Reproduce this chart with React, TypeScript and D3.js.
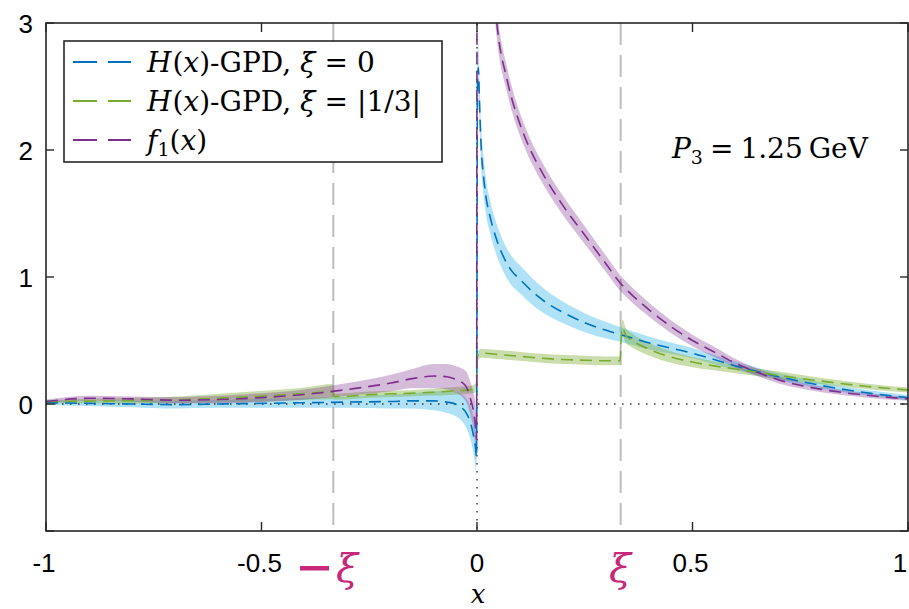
import React from "react";
import * as d3 from "d3";

// ---------- data ----------
const xTicks = [-1, -0.5, 0, 0.5, 1];
const xTickLabels = ["-1", "-0.5", "0", "0.5", "1"];
const yTicks = [-1, 0, 1, 2, 3];
const yTickLabels = ["", "0", "1", "2", "3"];
const xiValue = 1 / 3;

// H(x)-GPD, xi = 0
const xBlue = [-1, -0.9, -0.8, -0.7, -0.6, -0.5, -0.4, -0.3, -0.2, -0.15, -0.1, -0.07, -0.05, -0.035, -0.025, -0.015, -0.008, -0.004, -0.001,
  0.001, 0.003, 0.006, 0.01, 0.015, 0.02, 0.03, 0.045, 0.06, 0.08, 0.1, 0.13, 0.16, 0.2, 0.25, 0.3, 0.35, 0.4, 0.45, 0.5, 0.55, 0.6, 0.65, 0.7, 0.8, 0.9, 1.0];
const yBlue = [0.01, 0.005, 0.0, -0.005, 0.0, 0.005, 0.01, 0.015, 0.02, 0.025, 0.025, 0.015, 0.0, -0.03, -0.07, -0.15, -0.25, -0.33, -0.42,
  2.5, 2.65, 2.35, 2.0, 1.8, 1.65, 1.48, 1.3, 1.17, 1.05, 0.98, 0.88, 0.8, 0.72, 0.64, 0.58, 0.53, 0.48, 0.44, 0.40, 0.35, 0.30, 0.255, 0.215, 0.145, 0.09, 0.05];
const eBlue = [0.015, 0.02, 0.025, 0.03, 0.03, 0.035, 0.04, 0.045, 0.055, 0.06, 0.075, 0.085, 0.095, 0.105, 0.115, 0.13, 0.145, 0.16, 0.18,
  0.2, 0.2, 0.18, 0.16, 0.15, 0.14, 0.13, 0.125, 0.12, 0.115, 0.11, 0.105, 0.095, 0.085, 0.075, 0.065, 0.055, 0.05, 0.045, 0.04, 0.035, 0.032, 0.03, 0.028, 0.025, 0.022, 0.02];

// H(x)-GPD, xi = |1/3|
const xGreen = [-1, -0.885, -0.715, -0.548, -0.39, -0.336, -0.33, -0.235, -0.158, -0.065, -0.011, -0.001,
  0.001, 0.01, 0.05, 0.1, 0.15, 0.2, 0.25, 0.3, 0.332, 0.335, 0.338, 0.345, 0.36, 0.4, 0.45, 0.5, 0.55, 0.6, 0.65, 0.7, 0.8, 0.9, 1.0];
const yGreen = [0.02, 0.024, 0.031, 0.053, 0.084, 0.097, 0.058, 0.076, 0.084, 0.10, 0.115, 0.13,
  0.38, 0.40, 0.39, 0.375, 0.36, 0.35, 0.345, 0.34, 0.34, 0.55, 0.60, 0.54, 0.50, 0.43, 0.37, 0.33, 0.30, 0.275, 0.25, 0.225, 0.18, 0.14, 0.11];
const eGreen = [0.01, 0.02, 0.025, 0.04, 0.05, 0.06, 0.025, 0.025, 0.025, 0.03, 0.03, 0.035,
  0.035, 0.035, 0.035, 0.035, 0.035, 0.035, 0.035, 0.035, 0.035, 0.06, 0.065, 0.06, 0.055, 0.05, 0.045, 0.04, 0.035, 0.033, 0.03, 0.03, 0.025, 0.022, 0.02];

// f1(x)
const xPurple = [-1, -0.9, -0.8, -0.7, -0.6, -0.5, -0.4, -0.3, -0.2, -0.15, -0.1, -0.07, -0.05, -0.035, -0.025, -0.015, -0.008, -0.004, -0.001,
  0.001, 0.01, 0.02, 0.03, 0.046, 0.07, 0.1, 0.12, 0.15, 0.2, 0.25, 0.3, 0.333, 0.35, 0.4, 0.45, 0.5, 0.55, 0.6, 0.65, 0.7, 0.8, 0.9, 1.0];
const yPurple = [0.02, 0.045, 0.04, 0.03, 0.035, 0.05, 0.075, 0.115, 0.165, 0.2, 0.22, 0.215, 0.195, 0.17, 0.135, 0.04, -0.06, -0.16, -0.28,
  8.0, 6.0, 4.5, 3.7, 3.0, 2.55, 2.2, 2.03, 1.83, 1.56, 1.33, 1.1, 0.95, 0.89, 0.74, 0.61, 0.50, 0.41, 0.32, 0.25, 0.19, 0.115, 0.07, 0.04];
const ePurple = [0.015, 0.02, 0.02, 0.025, 0.03, 0.035, 0.04, 0.05, 0.065, 0.075, 0.095, 0.1, 0.105, 0.11, 0.12, 0.13, 0.15, 0.17, 0.2,
  0.3, 0.25, 0.2, 0.15, 0.12, 0.1, 0.09, 0.085, 0.08, 0.075, 0.07, 0.065, 0.062, 0.06, 0.055, 0.05, 0.045, 0.04, 0.035, 0.03, 0.028, 0.022, 0.018, 0.015];

// ---------- layout ----------
const W = 909, H = 609;
const L = 46, R = 908, T = 23, B = 531;
const serif = "'DejaVu Serif', 'Liberation Serif', serif";
const sans = "'Liberation Sans', Arial, sans-serif";

const xS = d3.scaleLinear().domain([-1, 1]).range([L, R]);
const yS = d3.scaleLinear().domain([-1, 3]).range([B, T]);

type P = { x: number; y: number; e: number };
const mk = (xs: number[], ys: number[], es: number[]): P[] => xs.map((x, i) => ({ x, y: ys[i], e: es[i] }));

const series = [
  { name: "blue", data: mk(xBlue, yBlue, eBlue), line: "#0072BD", fill: "#4DBEEE", op: 0.45 },
  { name: "green", data: mk(xGreen, yGreen, eGreen), line: "#77AC30", fill: "#77AC30", op: 0.4 },
  { name: "purple", data: mk(xPurple, yPurple, ePurple), line: "#7E2F8E", fill: "#7E2F8E", op: 0.32 },
];

const lineGen = d3.line<P>().curve(d3.curveMonotoneX).x(d => xS(d.x)).y(d => yS(d.y));
const areaGen = d3.area<P>().curve(d3.curveMonotoneX).x(d => xS(d.x)).y0(d => yS(d.y - d.e)).y1(d => yS(d.y + d.e));

const magenta = "#C8287A";
const axisCol = "#262626";
const FS = 28;

export default function App() {
  return (
    <svg width={W} height={H} style={{ position: "absolute", left: 0, top: 0, background: "#fff" }}>
      <defs>
        <clipPath id="plot">
          <rect x={L} y={T} width={R - L} height={B - T} />
        </clipPath>
      </defs>
      <rect x={0} y={0} width={W} height={H} fill="#fff" />

      {/* grey dashed xi lines */}
      {[-xiValue, xiValue].map((v, i) => (
        <line key={i} x1={xS(v)} x2={xS(v)} y1={T} y2={B} stroke="#BDBDBD" strokeWidth={2} strokeDasharray="22 10" />
      ))}

      <g clipPath="url(#plot)">
        {series.map(s => (
          <path key={s.name + "a"} d={areaGen(s.data) || ""} fill={s.fill} fillOpacity={s.op} stroke="none" />
        ))}
        {/* dotted zero lines */}
        <line x1={L} x2={R} y1={yS(0)} y2={yS(0)} stroke="#333" strokeWidth={1.4} strokeDasharray="1.5 6.5" />
        <line x1={xS(0)} x2={xS(0)} y1={T} y2={B} stroke="#333" strokeWidth={1.4} strokeDasharray="1.5 6.5" />
        {series.map(s => (
          <path key={s.name + "l"} d={lineGen(s.data) || ""} fill="none" stroke={s.line} strokeWidth={1.6} strokeDasharray="12 7" />
        ))}
      </g>

      {/* axes box */}
      <rect x={L} y={T} width={R - L} height={B - T} fill="none" stroke={axisCol} strokeWidth={1.6} />
      {xTicks.map((t, i) => (
        <g key={"xt" + i}>
          <line x1={xS(t)} x2={xS(t)} y1={B} y2={B - 9} stroke={axisCol} strokeWidth={1.4} />
          <line x1={xS(t)} x2={xS(t)} y1={T} y2={T + 9} stroke={axisCol} strokeWidth={1.4} />
          <text x={t === 1 ? 900 : xS(t) - (t === 0 ? 0 : 2)} y={572} fontFamily={sans} fontSize={26} textAnchor="middle" fill="#000">{xTickLabels[i]}</text>
        </g>
      ))}
      {yTicks.map((t, i) => (
        <g key={"yt" + i}>
          <line x1={L} x2={L + 8} y1={yS(t)} y2={yS(t)} stroke={axisCol} strokeWidth={1.4} />
          <line x1={R} x2={R - 8} y1={yS(t)} y2={yS(t)} stroke={axisCol} strokeWidth={1.4} />
          <text x={33} y={yS(t) + 10} fontFamily={sans} fontSize={26} textAnchor="end" fill="#000">{yTickLabels[i]}</text>
        </g>
      ))}

      {/* xi labels */}
      <rect x={300} y={566} width={29} height={4.5} fill={magenta} />
      <text x={347} y={582} fontFamily={serif} fontStyle="italic" fontSize={40} textAnchor="middle" fill={magenta}>ξ</text>
      <text x={620} y={582} fontFamily={serif} fontStyle="italic" fontSize={40} textAnchor="middle" fill={magenta}>ξ</text>

      {/* x axis label */}
      <text x={478} y={603} fontFamily={serif} fontStyle="italic" fontSize={26} textAnchor="middle" fill="#000">x</text>

      {/* P3 annotation */}
      <text x={672} y={158} fontFamily={serif} fontSize={FS} fill="#000">
        <tspan fontStyle="italic">P</tspan>
        <tspan fontSize={19} dy={6}>3</tspan>
        <tspan dy={-6} dx={7}>=</tspan>
        <tspan dx={7}>1.25</tspan>
        <tspan dx={6}>GeV</tspan>
      </text>

      {/* legend */}
      <rect x={64} y={41} width={378} height={121} fill="#fff" stroke={axisCol} strokeWidth={1.6} />
      {[
        { col: "#0072BD", y: 62 },
        { col: "#77AC30", y: 101 },
        { col: "#7E2F8E", y: 140 },
      ].map((e, i) => (
        <line key={"lg" + i} x1={73} x2={131} y1={e.y} y2={e.y} stroke={e.col} strokeWidth={2} strokeDasharray="24 11" />
      ))}
      <text x={147} y={72} fontFamily={serif} fontSize={FS} fill="#000">
        <tspan fontStyle="italic">H</tspan>
        <tspan dx={1}>(</tspan>
        <tspan fontStyle="italic">x</tspan>
        <tspan>)-GPD,</tspan>
        <tspan dx={9} fontStyle="italic">ξ</tspan>
        <tspan dx={9}>=</tspan>
        <tspan dx={9}>0</tspan>
      </text>
      <text x={147} y={111} fontFamily={serif} fontSize={FS} fill="#000">
        <tspan fontStyle="italic">H</tspan>
        <tspan dx={1}>(</tspan>
        <tspan fontStyle="italic">x</tspan>
        <tspan>)-GPD,</tspan>
        <tspan dx={9} fontStyle="italic">ξ</tspan>
        <tspan dx={9}>=</tspan>
        <tspan dx={9}>|1/3|</tspan>
      </text>
      <text x={147} y={150} fontFamily={serif} fontSize={FS} fill="#000">
        <tspan fontStyle="italic">f</tspan>
        <tspan fontSize={19} dy={6}>1</tspan>
        <tspan dy={-6}>(</tspan>
        <tspan fontStyle="italic">x</tspan>
        <tspan>)</tspan>
      </text>
    </svg>
  );
}
